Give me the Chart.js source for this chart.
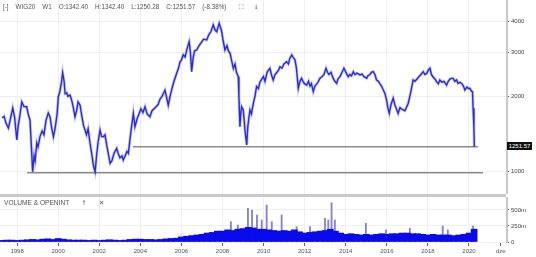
<!DOCTYPE html>
<html lang="pl">
<head>
<meta charset="UTF-8">
<title>WIG20 W1</title>
<script src="https://cdn.jsdelivr.net/npm/chart.js"></script>
<style>
    body {
        margin: 0;
        width: 536px;
        height: 257px;
        overflow: hidden;
        position: relative;
        background: #fff;
        font-family: "Liberation Sans", Arial, sans-serif;
    }
    #priceBox { position: absolute; left: 0; top: 0; width: 536px; height: 194px; }
    #volBox { position: absolute; left: 0; top: 197px; width: 536px; height: 60px; }
    .sep { position: absolute; left: 0; top: 194px; width: 506px; height: 3px; background: #cacaca; }
    .bar { position: absolute; display: flex; gap: 7px; font-size: 6.3px; color: #555; white-space: nowrap; line-height: 8px; }
    .icon { font-family: "DejaVu Sans", sans-serif; }
    .last {
        position: absolute; left: 507px; top: 142px; width: 25px; height: 8px;
        background: #111; color: #fff; font-size: 6px; line-height: 8px; text-align: center;
    }
</style>
</head>
<body>
<div id="priceBox"><canvas id="priceChart"></canvas></div>
<div class="sep"></div>
<div id="volBox"><canvas id="volChart"></canvas></div>

<!-- header of the price panel -->
<div class="bar" style="left:3px;top:3px">
    <span>[-]</span><span>WIG20</span><span>W1</span><span>O:1342.40</span><span>H:1342.40</span>
    <span>L:1250.28</span><span>C:1251.57</span><span>(-8.38%)</span>
    <span class="icon" style="margin-left:6px">⛶</span><span class="icon" style="margin-left:3px">↓</span>
</div>

<!-- header of the volume panel -->
<div class="bar" style="left:4px;top:199px;font-size:6.6px;gap:12px">
    <span>VOLUME &amp; OPENINT</span><span class="icon">↑</span><span class="icon">✕</span>
</div>

<div class="last">1251.57</div>

<script>
// ---- data ----
const priceYears = [
    1997.27, 1997.37, 1997.46, 1997.58, 1997.66, 1997.79, 1997.88, 1997.99, 1998.05, 1998.15,
    1998.23, 1998.34, 1998.47, 1998.54, 1998.63, 1998.71, 1998.76, 1998.83, 1998.88, 1998.96,
    1999.02, 1999.12, 1999.22, 1999.31, 1999.41, 1999.52, 1999.61, 1999.68, 1999.77, 1999.85,
    1999.95, 2000.01, 2000.09, 2000.17, 2000.22, 2000.29, 2000.34, 2000.42, 2000.48, 2000.58,
    2000.68, 2000.75, 2000.82, 2000.90, 2000.97, 2001.07, 2001.16, 2001.24, 2001.31, 2001.38,
    2001.46, 2001.55, 2001.65, 2001.72, 2001.80, 2001.87, 2001.94, 2002.04, 2002.11, 2002.20,
    2002.28, 2002.38, 2002.53, 2002.62, 2002.72, 2002.85, 2002.92, 2003.01, 2003.11, 2003.17,
    2003.26, 2003.35, 2003.42, 2003.50, 2003.57, 2003.66, 2003.74, 2003.84, 2003.94, 2004.03,
    2004.13, 2004.23, 2004.33, 2004.47, 2004.57, 2004.72, 2004.86, 2004.96, 2005.06, 2005.20,
    2005.27, 2005.36, 2005.45, 2005.54, 2005.64, 2005.77, 2005.86, 2005.93, 2006.00, 2006.09,
    2006.18, 2006.27, 2006.38, 2006.44, 2006.50, 2006.57, 2006.64, 2006.74, 2006.86, 2006.95,
    2007.08, 2007.23, 2007.34, 2007.44, 2007.55, 2007.64, 2007.72, 2007.78, 2007.84, 2007.90,
    2007.96, 2008.02, 2008.12, 2008.22, 2008.29, 2008.37, 2008.44, 2008.53, 2008.61, 2008.68,
    2008.77, 2008.80, 2008.85, 2008.89, 2008.93, 2009.01, 2009.07, 2009.12, 2009.18, 2009.23,
    2009.29, 2009.34, 2009.41, 2009.50, 2009.58, 2009.66, 2009.75, 2009.82, 2009.92, 2009.99,
    2010.07, 2010.17, 2010.24, 2010.31, 2010.38, 2010.47, 2010.56, 2010.65, 2010.73, 2010.80,
    2010.90, 2010.99, 2011.12, 2011.21, 2011.28, 2011.37, 2011.43, 2011.53, 2011.60, 2011.69,
    2011.77, 2011.85, 2011.92, 2011.99, 2012.10, 2012.19, 2012.26, 2012.33, 2012.42, 2012.50,
    2012.60, 2012.67, 2012.74, 2012.84, 2012.94, 2013.04, 2013.11, 2013.18, 2013.28, 2013.39,
    2013.47, 2013.56, 2013.62, 2013.72, 2013.82, 2013.91, 2014.01, 2014.12, 2014.20, 2014.28,
    2014.37, 2014.45, 2014.55, 2014.69, 2014.79, 2014.89, 2015.02, 2015.08, 2015.18, 2015.25,
    2015.34, 2015.42, 2015.50, 2015.59, 2015.66, 2015.74, 2015.83, 2015.91, 2015.99, 2016.05,
    2016.12, 2016.20, 2016.31, 2016.39, 2016.47, 2016.55, 2016.64, 2016.71, 2016.80, 2016.88,
    2016.95, 2017.04, 2017.12, 2017.20, 2017.28, 2017.37, 2017.47, 2017.56, 2017.66, 2017.77,
    2017.85, 2017.95, 2018.02, 2018.10, 2018.17, 2018.24, 2018.34, 2018.42, 2018.51, 2018.58,
    2018.68, 2018.78, 2018.91, 2018.99, 2019.07, 2019.15, 2019.23, 2019.31, 2019.39, 2019.47,
    2019.56, 2019.65, 2019.73, 2019.80, 2019.90, 2019.97, 2020.04, 2020.12, 2020.17, 2020.20,
    2020.24, 2020.26
];
const priceValues = [
    1640, 1660, 1560, 1490, 1600, 1795, 1650, 1334, 1509, 1700,
    1900, 1820, 1816, 1700, 1606, 1200, 993, 1150, 1100, 1297,
    1250, 1380, 1450, 1400, 1600, 1714, 1650, 1500, 1375, 1480,
    1700, 1993, 2100, 2300, 2490, 2300, 2050, 2064, 2000, 2025,
    1900, 1780, 1655, 1750, 1900, 1842, 1650, 1520, 1463, 1400,
    1480, 1300, 1150, 1050, 993, 1150, 1300, 1463, 1380, 1375,
    1400, 1250, 1074, 1100, 1180, 1235, 1180, 1130, 1150, 1108,
    1150, 1200, 1178, 1350, 1500, 1708, 1509, 1620, 1700, 1780,
    1720, 1816, 1700, 1655, 1750, 1800, 1850, 1950, 2000, 2120,
    2000, 1842, 2000, 2150, 2300, 2478, 2600, 2750, 2800, 2940,
    2880, 3100, 3320, 3000, 2515, 2850, 3050, 3075, 3200, 3280,
    3400, 3375, 3550, 3650, 3880, 3700, 3645, 3800, 3940, 3800,
    3645, 3400, 3075, 3200, 3050, 2980, 2800, 2595, 2700, 2500,
    2400, 2000, 1509, 1700, 1816, 1762, 1550, 1400, 1273, 1500,
    1650, 1762, 1700, 1872, 2000, 2190, 2150, 2280, 2350, 2400,
    2300, 2500, 2550, 2595, 2450, 2328, 2450, 2500, 2550, 2630,
    2600, 2700, 2760, 2700, 2850, 2940, 2880, 2805, 2600, 2155,
    2300, 2364, 2300, 2250, 2220, 2300, 2200, 2250, 2090, 2200,
    2250, 2300, 2364, 2400, 2450, 2595, 2500, 2450, 2500, 2364,
    2300, 2256, 2350, 2400, 2500, 2595, 2500, 2400, 2450, 2420,
    2515, 2450, 2480, 2440, 2460, 2400, 2364, 2420, 2450, 2500,
    2515, 2450, 2328, 2300, 2250, 2200, 2120, 2050, 1932, 1800,
    1708, 1850, 1965, 1850, 1780, 1708, 1800, 1780, 1762, 1750,
    1800, 1872, 2000, 2150, 2328, 2300, 2350, 2400, 2450, 2515,
    2450, 2480, 2550, 2595, 2450, 2400, 2350, 2292, 2250, 2328,
    2280, 2300, 2220, 2300, 2350, 2364, 2364, 2300, 2330, 2256,
    2280, 2250, 2200, 2120, 2180, 2150, 2155, 2100, 2090, 1790,
    1500, 1251.57
];

// horizontal levels drawn on the chart
const levelValues = [1251.57, 985];
const levelStarts = [2003.64, 1998.49];
const levelEnds = [2020.43, 2020.68];

// volume (millions), quarterly
const volYears = [
    1997.25, 1997.5, 1997.75,
    1998, 1998.25, 1998.5, 1998.75, 1999, 1999.25, 1999.5, 1999.75,
    2000, 2000.25, 2000.5, 2000.75, 2001, 2001.25, 2001.5, 2001.75,
    2002, 2002.25, 2002.5, 2002.75, 2003, 2003.25, 2003.5, 2003.75,
    2004, 2004.25, 2004.5, 2004.75, 2005, 2005.25, 2005.5, 2005.75,
    2006, 2006.25, 2006.5, 2006.75, 2007, 2007.25, 2007.5, 2007.75,
    2008, 2008.25, 2008.5, 2008.75, 2009, 2009.25, 2009.5, 2009.75,
    2010, 2010.25, 2010.5, 2010.75, 2011, 2011.25, 2011.5, 2011.75,
    2012, 2012.25, 2012.5, 2012.75, 2013, 2013.25, 2013.5, 2013.75,
    2014, 2014.25, 2014.5, 2014.75, 2015, 2015.25, 2015.5, 2015.75,
    2016, 2016.25, 2016.5, 2016.75, 2017, 2017.25, 2017.5, 2017.75,
    2018, 2018.25, 2018.5, 2018.75, 2019, 2019.25, 2019.5, 2019.75,
    2020, 2020.25
];
const volValues = [
    25, 30, 30,
    25, 30, 35, 40, 35, 45, 50, 40,
    55, 45, 35, 30, 30, 30, 25, 30,
    25, 30, 35, 30, 25, 30, 40, 45,
    45, 40, 40, 35, 40, 50, 55, 60,
    80, 90, 100, 110, 120, 140, 150, 170,
    170, 190, 180, 200, 210, 230, 220, 200,
    200, 190, 180, 170, 180, 170, 190, 160,
    140, 150, 160, 170, 180, 200, 170, 140,
    120, 130, 120, 110, 120, 110, 120, 130,
    120, 130, 130, 140, 140, 130, 130, 120,
    110, 120, 110, 110, 110, 100, 110, 120,
    140, 200
];
const spikeYears = [
    2008.41, 2008.75, 2009.24, 2009.44, 2009.68, 2009.91, 2010.15, 2010.40, 2010.88, 2011.61,
    2012.26, 2012.99, 2013.15, 2013.31, 2013.47, 2014.98, 2015.96, 2017.12, 2018.72, 2018.97,
    2020.20
];
const spikeValues = [
    317, 265, 526, 500, 420, 344, 578, 317, 422, 240,
    240, 370, 344, 614, 344, 292, 190, 214, 250, 190,
    250
];

const priceTicks = [1000, 2000, 3000, 4000];
const volTicks = [0, 250, 500];
const yearTicks = [1998, 2000, 2002, 2004, 2006, 2008, 2010, 2012, 2014, 2016, 2018, 2020];
const extraTick = 2021.55;
const extraLabel = 'dze';

const xMin = 1997.17, xMax = 2021.85;
const fontFamily = '"Liberation Sans", Arial, sans-serif';

function pairs(xs, ys) {
    return xs.map((x, i) => ({ x: x, y: ys[i] }));
}

// remove the extra room Chart.js keeps for edge labels
function noPad(s) {
    s.paddingTop = 0;
    s.paddingBottom = 0;
    s.paddingLeft = 0;
    s.paddingRight = 0;
}

// ---- price panel ----
const levelSets = levelValues.map((v, i) => ({
    data: [{ x: levelStarts[i], y: v }, { x: levelEnds[i], y: v }],
    borderColor: '#8c8c8c',
    borderWidth: 1.5,
    pointRadius: 0
}));

new Chart(document.getElementById('priceChart'), {
    type: 'line',
    data: {
        datasets: [
            {
                data: pairs(priceYears, priceValues),
                borderColor: 'rgba(100,100,215,0.35)',
                borderWidth: 3,
                pointRadius: 0
            },
            {
                data: pairs(priceYears, priceValues),
                borderColor: '#0c0cd8',
                borderWidth: 1.4,
                pointRadius: 0
            }
        ].concat(levelSets)
    },
    options: {
        animation: false,
        responsive: true,
        maintainAspectRatio: false,
        layout: { padding: 0 },
        plugins: { legend: { display: false }, tooltip: { enabled: false } },
        scales: {
            x: {
                type: 'linear',
                min: xMin,
                max: xMax,
                bounds: 'data',
                offset: false,
                ticks: { display: false },
                grid: { color: '#efefef', drawTicks: false },
                border: { display: false },
                afterBuildTicks: s => { s.ticks = yearTicks.map(v => ({ value: v })); },
                afterFit: s => { s.height = 0; noPad(s); }
            },
            y: {
                type: 'logarithmic',
                position: 'right',
                min: 808,
                max: 4891,
                bounds: 'data',
                afterBuildTicks: s => { s.ticks = priceTicks.map(v => ({ value: v })); },
                afterFit: s => { s.width = 29; noPad(s); },
                ticks: {
                    font: { family: fontFamily, size: 6 },
                    color: '#444',
                    padding: 2,
                    autoSkip: false,
                    callback: v => String(v)
                },
                grid: { color: '#efefef', tickColor: '#555', tickLength: 2 },
                border: { color: '#c8c8c8', width: 2 }
            }
        }
    }
});

// ---- volume panel ----
new Chart(document.getElementById('volChart'), {
    type: 'bar',
    data: {
        datasets: [
            {
                data: pairs(volYears, volValues),
                backgroundColor: '#0a0aee',
                barThickness: 6,
                grouped: false,
                order: 1
            },
            {
                data: pairs(spikeYears, spikeValues),
                backgroundColor: '#8383d4',
                barThickness: 1.2,
                grouped: false,
                order: 2
            }
        ]
    },
    options: {
        animation: false,
        responsive: true,
        maintainAspectRatio: false,
        layout: { padding: 0 },
        plugins: { legend: { display: false }, tooltip: { enabled: false } },
        scales: {
            x: {
                type: 'linear',
                min: xMin,
                max: xMax,
                bounds: 'data',
                offset: false,
                afterBuildTicks: s => {
                    s.ticks = yearTicks.concat([extraTick]).map(v => ({ value: v }));
                },
                afterFit: s => { s.height = 15; noPad(s); },
                ticks: {
                    font: { family: fontFamily, size: 6 },
                    color: '#555',
                    padding: 2,
                    maxRotation: 0,
                    autoSkip: false,
                    callback: v => (v === extraTick ? extraLabel : String(v))
                },
                grid: {
                    offset: false,
                    color: ctx => (ctx.tick && ctx.tick.value === extraTick ? 'rgba(0,0,0,0)' : '#efefef'),
                    tickColor: '#666',
                    tickLength: 4
                },
                border: { display: false }
            },
            y: {
                type: 'linear',
                position: 'right',
                min: 0,
                max: 703,
                bounds: 'data',
                afterBuildTicks: s => { s.ticks = volTicks.map(v => ({ value: v })); },
                afterFit: s => { s.width = 29; noPad(s); },
                ticks: {
                    font: { family: fontFamily, size: 6 },
                    color: '#444',
                    padding: 2,
                    autoSkip: false,
                    callback: v => (v === 0 ? '0' : v + 'm')
                },
                grid: { color: '#efefef', tickColor: '#555', tickLength: 2 },
                border: { color: '#c8c8c8', width: 2 }
            }
        }
    }
});
</script>
</body>
</html>
